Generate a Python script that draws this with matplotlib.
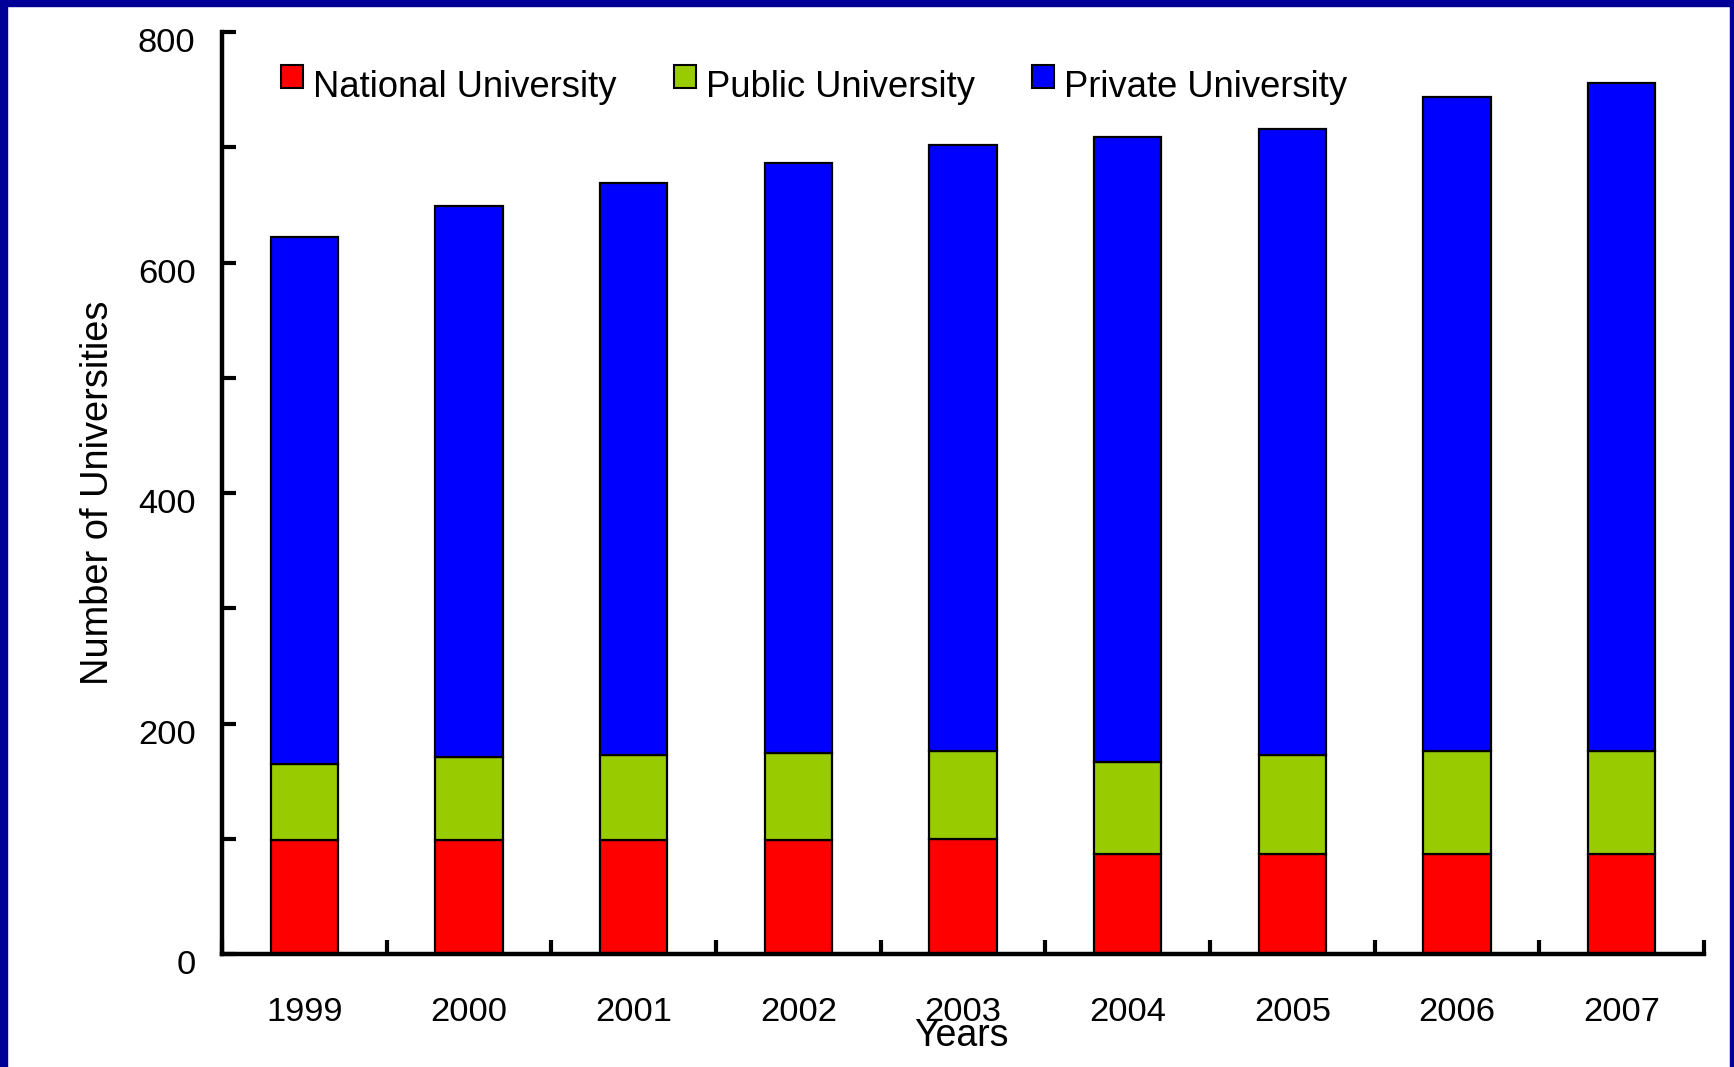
import matplotlib
matplotlib.use("Agg")
import matplotlib.pyplot as plt
import matplotlib.transforms as mtransforms
import numpy as np
from matplotlib.patches import Rectangle

years = ["1999", "2000", "2001", "2002", "2003", "2004", "2005", "2006", "2007"]
national = [99, 99, 99, 99, 100, 87, 87, 87, 87]
public = [66, 72, 74, 75, 76, 80, 86, 89, 89]
private = [457, 478, 496, 512, 526, 542, 543, 568, 580]

series_names = ["National University", "Public University", "Private University"]
colors = ["#FF0000", "#99CC00", "#0000FF"]

W, H = 1734, 1067
plt.rcParams["font.family"] = ["Liberation Sans", "DejaVu Sans"]

fig = plt.figure(figsize=(W / 100, H / 100), dpi=100)
ax = fig.add_axes([222 / W, 1 - 954 / H, (1704 - 222) / W, (954 - 32) / H])

x = np.arange(len(years))
bottom = np.zeros(len(years))
for vals, name, c in zip([national, public, private], series_names, colors):
    ax.bar(x, vals, width=0.41, bottom=bottom, color=c, edgecolor="black",
           linewidth=1.6, label=name, zorder=2)
    bottom += np.array(vals)

ax.set_xlim(-0.5, len(years) - 0.5)
ax.set_ylim(0, 800)

ax.spines["top"].set_visible(False)
ax.spines["right"].set_visible(False)
for s in ["left", "bottom"]:
    ax.spines[s].set_linewidth(3.2)
    ax.spines[s].set_zorder(3)

ax.set_yticks(np.arange(0, 801, 200))
ax.set_yticks(np.arange(0, 801, 100), minor=True)
ax.set_xticks(x)
ax.set_xticklabels(years)
ax.set_xticks(np.arange(-0.5, len(years), 1.0), minor=True)

ax.tick_params(axis="y", which="both", direction="in", length=10, width=3,
               labelsize=24.8, pad=19)
ax.tick_params(axis="x", which="major", direction="in", length=8, width=3,
               labelsize=24.8, pad=31)
ax.tick_params(axis="x", which="minor", direction="in", length=10, width=3)

# y labels sit a little below their ticks in the original
shift = mtransforms.ScaledTranslation(0, -6 / 72, fig.dpi_scale_trans)
for lab in ax.get_yticklabels():
    lab.set_transform(lab.get_transform() + shift)

ax.set_ylabel("Number of Universities", fontsize=27.4, labelpad=16)
fig.text(961 / W, 1 - 1036 / H, "Years", fontsize=27, ha="center", va="center")

# legend drawn by hand: square on top, text slightly lower
fig.canvas.draw()
renderer = fig.canvas.get_renderer()
x0 = 281
for name, c in zip(series_names, colors):
    fig.add_artist(Rectangle((x0 / W, 1 - 88 / H), 22 / W, 23 / H,
                             transform=fig.transFigure, facecolor=c,
                             edgecolor="black", linewidth=1.5))
    t = fig.text((x0 + 32) / W, 1 - 97 / H, name, fontsize=26.2,
                 ha="left", va="baseline")
    bb = t.get_window_extent(renderer)
    x0 = bb.x1 + 57

# dark blue frame around the slide
border = "#000099"
fig.add_artist(Rectangle((0, 0), 7 / W, 1, transform=fig.transFigure,
                         color=border, zorder=10))
fig.add_artist(Rectangle((0, 1 - 6 / H), 1, 6 / H, transform=fig.transFigure,
                         color=border, zorder=10))
fig.add_artist(Rectangle((1 - 4 / W, 0), 4 / W, 1, transform=fig.transFigure,
                         color=border, zorder=10))

fig.savefig("out.png", dpi=100)
